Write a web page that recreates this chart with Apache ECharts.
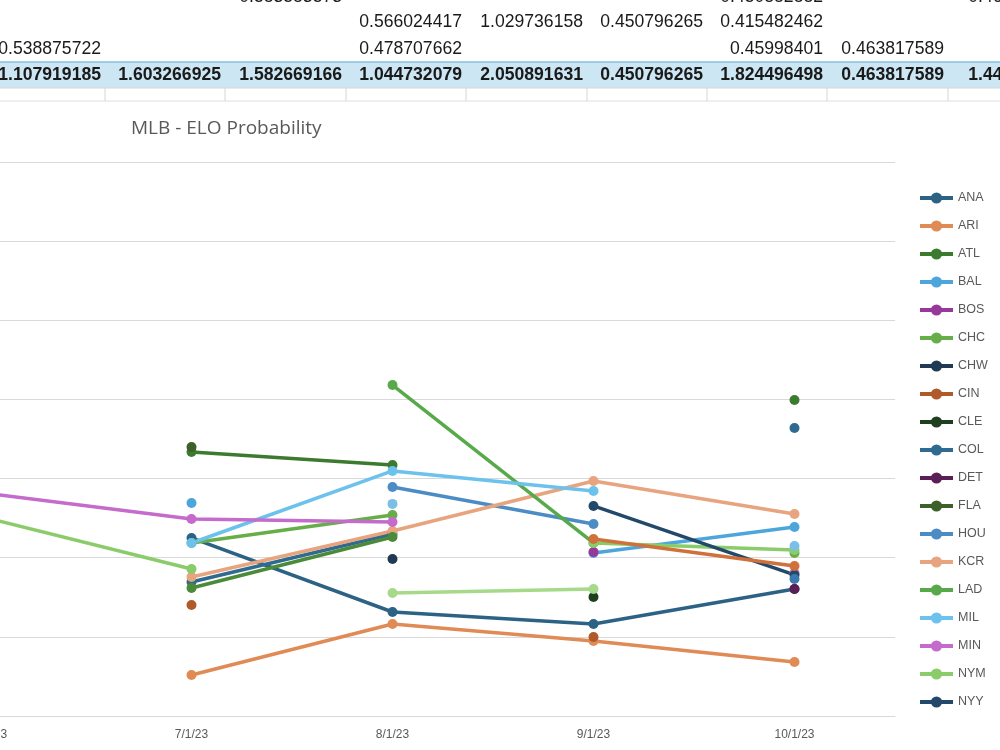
<!DOCTYPE html>
<html>
<head>
<meta charset="utf-8">
<script src="https://cdn.jsdelivr.net/npm/echarts@6/dist/echarts.min.js"></script>
<style>
  html, body { margin: 0; padding: 0; background: #fff; }
  #chart { width: 1000px; height: 750px; }
</style>
</head>
<body>
<div id="chart"></div>
<script>
// month axis
var dates = ["6/1/23", "7/1/23", "8/1/23", "9/1/23", "10/1/23"];

// ELO probability per team (null = no game data that month)
var ANA = [null, 0.4625, 0.4157, 0.4081, 0.4302];
var ARI = [null, 0.3759, 0.4081, 0.3974, 0.3841];
var ATL = [null, 0.5168, 0.5086, null, 0.5496];
var BAL = [null, 0.4846, null, 0.453, 0.4694];
var BOS = [null, null, null, 0.4536, null];
var CHC = [null, 0.4593, 0.477, null, 0.453];
var CHW = [null, null, 0.4492, null, null];
var CIN = [null, 0.4201, null, 0.3999, null];
var CLE = [null, null, null, 0.4252, null];
var COL = [null, 0.4347, 0.465, null, 0.532];
var DET = [null, null, null, null, 0.4302];
var FLA = [null, 0.52, null, null, null];
var HOU = [null, null, 0.4947, 0.4713, null];
var KCR = [null, 0.4378, 0.4669, 0.4985, 0.4776];
var LAD = [null, null, 0.5591, 0.4593, null];
var MIL = [null, 0.4593, 0.5048, 0.4922, null];
var MIN = [0.4903, 0.4745, 0.4726, null, 0.4403];
var NYM = [0.4745, 0.4429, null, 0.4593, 0.4549];
var NYY = [null, null, null, 0.4827, 0.4391];
// teams whose legend entries are cut off below the chart
var OAK = [null, null, null, 0.4618, 0.4448];
var PIT = [null, null, null, null, 0.4366];
var SEA = [null, 0.4309, 0.4631, null, null];
var TEX = [null, null, 0.484, null, 0.4574];
var WSN = [null, null, 0.4277, 0.4302, null];

var legendTeams = ["ANA", "ARI", "ATL", "BAL", "BOS", "CHC", "CHW", "CIN", "CLE", "COL",
  "DET", "FLA", "HOU", "KCR", "LAD", "MIL", "MIN", "NYM", "NYY"];
var teamData = {
  ANA: ANA, ARI: ARI, ATL: ATL, BAL: BAL, BOS: BOS, CHC: CHC, CHW: CHW, CIN: CIN,
  CLE: CLE, COL: COL, DET: DET, FLA: FLA, HOU: HOU, KCR: KCR, LAD: LAD, MIL: MIL,
  MIN: MIN, NYM: NYM, NYY: NYY, OAK: OAK, PIT: PIT, SEA: SEA, TEX: TEX, WSN: WSN
};

// spreadsheet cells above the chart
var tableRow1 = [null, null, "0.583583573", null, null, null, "0.450882882", null, "0.465081774"];
var tableRow2 = [null, null, null, "0.566024417", "1.029736158", "0.450796265", "0.415482462", null, null];
var tableRow3 = ["0.538875722", null, null, "0.478707662", null, null, "0.45998401", "0.463817589", null];
var tableTotals = ["1.107919185", "1.603266925", "1.582669166", "1.044732079", "2.050891631",
  "0.450796265", "1.824496498", "0.463817589", "1.449301827"];

var colors = {
  ANA: "#2c6384", ARI: "#e08a55", ATL: "#3b7a2f", BAL: "#4ca6dc", BOS: "#97399a",
  CHC: "#67ae49", CHW: "#1f3a52", CIN: "#b05a2c", CLE: "#1e3f20", COL: "#2f6a90",
  DET: "#5c1f55", FLA: "#3d5f2a", HOU: "#4b8cc4", KCR: "#e8a47e", LAD: "#58a94a",
  MIL: "#6cc2ec", MIN: "#c46bcb", NYM: "#8acb6a", NYY: "#22496a",
  OAK: "#d0703a", PIT: "#3a7aae", SEA: "#4a8a38", TEX: "#7ac0e6", WSN: "#a6da8a"
};

var myChart = echarts.init(document.getElementById("chart"));

var series = Object.keys(teamData).map(function (name) {
  return {
    name: name,
    type: "line",
    data: teamData[name],
    symbol: "circle",
    symbolSize: 10,
    color: colors[name],
    lineStyle: { width: 3.5 },
    emphasis: { disabled: true }
  };
});

// table graphics
var colRight = [101, 221, 342, 462, 583, 703, 823, 944, 1071];
var colLines = [105, 225, 346, 466, 587, 707, 827, 948];
var graphics = [
  { type: "rect", shape: { x: 0, y: 62, width: 1000, height: 26 }, style: { fill: "#cde6f4" }, silent: true },
  { type: "line", shape: { x1: 0, y1: 62, x2: 1000, y2: 62 }, style: { stroke: "#86bfe0", lineWidth: 1.5 }, silent: true },
  { type: "line", shape: { x1: 0, y1: 88, x2: 1000, y2: 88 }, style: { stroke: "#d6d6d6", lineWidth: 1 }, silent: true },
  { type: "line", shape: { x1: 0, y1: 101, x2: 1000, y2: 101 }, style: { stroke: "#e0e0e0", lineWidth: 1 }, silent: true }
];
colLines.forEach(function (x) {
  graphics.push({ type: "line", shape: { x1: x, y1: 88, x2: x, y2: 101 }, style: { stroke: "#d6d6d6", lineWidth: 1 }, silent: true });
});
function addRow(row, y, bold) {
  row.forEach(function (t, i) {
    if (t === null) return;
    graphics.push({
      type: "text", x: colRight[i], y: y, silent: true,
      style: {
        text: t, align: "right", verticalAlign: "middle",
        font: (bold ? "bold " : "") + "17.6px 'Liberation Sans', Arial, sans-serif",
        fill: "#1a1a1a"
      }
    });
  });
}
addRow(tableRow1, -3, false);
addRow(tableRow2, 22, false);
addRow(tableRow3, 49, false);
addRow(tableTotals, 75, true);

var option = {
  animation: false,
  backgroundColor: "#fff",
  title: {
    text: "MLB - ELO Probability",
    left: 126,
    top: 114,
    textStyle: { fontSize: 19, fontWeight: "normal", color: "#595959", fontFamily: "'Open Sans', 'Noto Sans', sans-serif" }
  },
  legend: {
    data: legendTeams,
    orient: "vertical",
    left: 913,
    top: 186,
    itemWidth: 33,
    itemHeight: 14,
    itemGap: 14,
    lineStyle: { width: 4 },
    textStyle: { fontSize: 12.5, color: "#595959", fontFamily: "'Liberation Sans Narrow', 'Liberation Sans', sans-serif", lineHeight: 14 },
    selectedMode: false
  },
  grid: {
    left: -110,
    top: 162,
    width: 1005,
    height: 554,
    outerBoundsMode: "none",
    containLabel: false
  },
  xAxis: {
    type: "category",
    data: dates,
    boundaryGap: true,
    axisLine: { lineStyle: { color: "#d9d9d9", width: 1 } },
    axisTick: { show: false },
    axisLabel: {
      margin: 13,
      fontSize: 12,
      color: "#595959",
      fontFamily: "'Liberation Sans Narrow', 'Liberation Sans', sans-serif"
    }
  },
  yAxis: {
    type: "value",
    min: 0.35,
    max: 0.7,
    interval: 0.05,
    axisLabel: { show: false },
    axisLine: { show: false },
    axisTick: { show: false },
    splitLine: { lineStyle: { color: "#d9d9d9", width: 1 } }
  },
  graphic: graphics,
  series: series
};

option && myChart.setOption(option);
</script>
</body>
</html>
